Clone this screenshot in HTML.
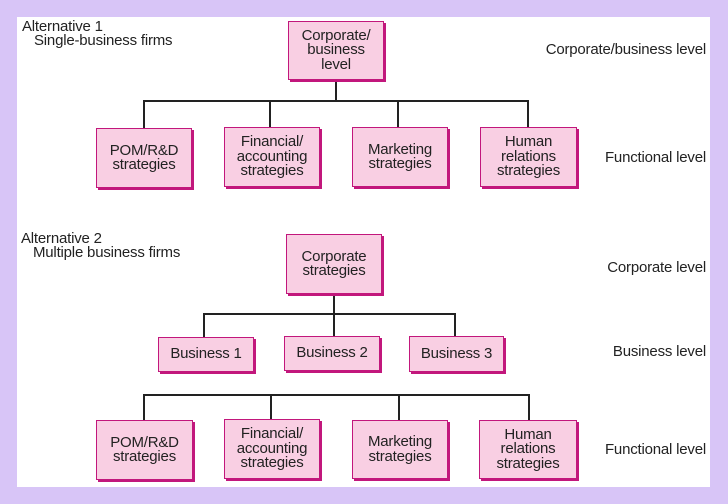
<!DOCTYPE html>
<html><head><meta charset="utf-8"><style>
html,body{margin:0;padding:0}
body{width:728px;height:504px;background:#d8c5f7;position:relative;overflow:hidden;font-family:"Liberation Sans",Arial,sans-serif;color:#222}
#w{position:absolute;left:17px;top:17px;width:693px;height:470px;background:#fff}
.b{position:absolute;box-sizing:border-box;background:#f9cfe3;border:1.5px solid #c2177c;box-shadow:2px 2px 0 #c2177c;display:flex;align-items:center;justify-content:center;text-align:center;font-size:15px;line-height:14.5px;letter-spacing:-0.2px}
.l{position:absolute;background:#222}
.t{position:absolute;font-size:15px;white-space:nowrap;line-height:14px;letter-spacing:-0.2px}
.r{position:absolute;font-size:15px;white-space:nowrap;right:22px;line-height:14px;letter-spacing:-0.2px}
</style></head><body>
<div id="w"></div>
<div class="t" style="left:22px;top:20px">Alternative 1</div>
<div class="t" style="left:34px;top:34px">Single-business firms</div>
<div class="t" style="left:21px;top:232px">Alternative 2</div>
<div class="t" style="left:33px;top:246px">Multiple business firms</div>

<div class="r" style="top:43px">Corporate/business level</div>
<div class="r" style="top:151px">Functional level</div>
<div class="r" style="top:261px">Corporate level</div>
<div class="r" style="top:345px">Business level</div>
<div class="r" style="top:443px">Functional level</div>

<div class="l" style="left:335px;top:80px;width:2px;height:22px"></div>
<div class="l" style="left:144px;top:100px;width:385px;height:2px"></div>
<div class="l" style="left:143px;top:100px;width:2px;height:28px"></div>
<div class="l" style="left:269px;top:100px;width:2px;height:28px"></div>
<div class="l" style="left:397px;top:100px;width:2px;height:28px"></div>
<div class="l" style="left:527px;top:100px;width:2px;height:28px"></div>

<div class="l" style="left:333px;top:294px;width:2px;height:42px"></div>
<div class="l" style="left:204px;top:313px;width:252px;height:2px"></div>
<div class="l" style="left:203px;top:313px;width:2px;height:24px"></div>
<div class="l" style="left:454px;top:313px;width:2px;height:24px"></div>
<div class="l" style="left:144px;top:394px;width:386px;height:2px"></div>
<div class="l" style="left:143px;top:394px;width:2px;height:27px"></div>
<div class="l" style="left:270px;top:394px;width:2px;height:27px"></div>
<div class="l" style="left:398px;top:394px;width:2px;height:27px"></div>
<div class="l" style="left:528px;top:394px;width:2px;height:27px"></div>

<div class="b" style="left:288px;top:21px;width:96px;height:59px">Corporate/<br>business<br>level</div>
<div class="b" style="left:96px;top:128px;width:96px;height:60px">POM/R&amp;D<br>strategies</div>
<div class="b" style="left:224px;top:127px;width:96px;height:60px">Financial/<br>accounting<br>strategies</div>
<div class="b" style="left:352px;top:127px;width:96px;height:60px">Marketing<br>strategies</div>
<div class="b" style="left:480px;top:127px;width:97px;height:60px">Human<br>relations<br>strategies</div>

<div class="b" style="left:286px;top:234px;width:96px;height:60px">Corporate<br>strategies</div>
<div class="b" style="left:158px;top:337px;width:96px;height:35px">Business 1</div>
<div class="b" style="left:284px;top:336px;width:96px;height:35px">Business 2</div>
<div class="b" style="left:409px;top:336px;width:95px;height:36px">Business 3</div>

<div class="b" style="left:96px;top:420px;width:97px;height:60px">POM/R&amp;D<br>strategies</div>
<div class="b" style="left:224px;top:419px;width:96px;height:60px">Financial/<br>accounting<br>strategies</div>
<div class="b" style="left:352px;top:420px;width:96px;height:59px">Marketing<br>strategies</div>
<div class="b" style="left:479px;top:420px;width:98px;height:59px">Human<br>relations<br>strategies</div>
</body></html>
